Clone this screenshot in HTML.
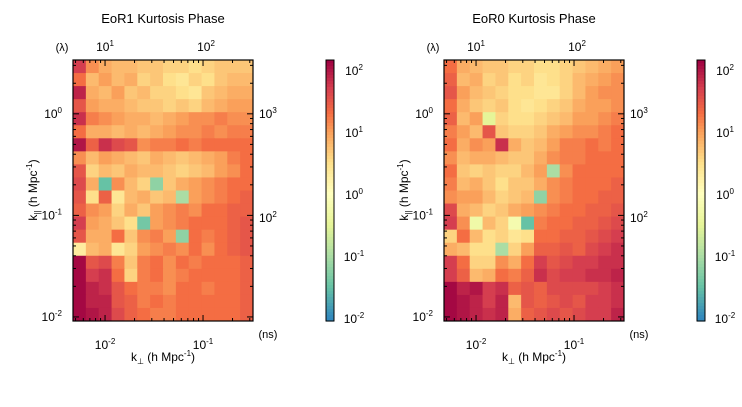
<!DOCTYPE html>
<html><head><meta charset="utf-8"><style>
body{margin:0;background:#fff;}
svg text{font-family:"Liberation Sans",sans-serif;fill:#000;}
</style></head><body>
<svg id="s" width="742" height="402" xmlns="http://www.w3.org/2000/svg"></svg>
<script>
const colEdgesLog=[-2.327,-0.49];
const rowEdgesLog=[-2.04,0.53];
const nCols=14, nRows=20;
const leftValues=[
[1.7,1.1,0.9,0.8,0.8,0.7,0.7,0.6,0.6,0.5,0.6,0.7,0.7,0.7],
[1.3,0.8,1.0,0.8,0.9,0.6,0.7,0.5,0.4,0.6,0.5,0.7,0.8,0.8],
[1.9,0.9,0.8,1.0,0.7,0.8,0.6,0.6,0.5,0.4,0.7,0.8,0.9,0.9],
[1.5,1.0,0.9,0.9,0.8,0.7,0.7,0.6,0.7,0.6,0.8,0.9,1.0,1.0],
[1.8,1.2,1.1,1.0,0.9,0.9,0.8,0.9,1.0,1.1,1.1,1.2,1.1,1.1],
[1.3,0.9,0.9,0.8,0.9,0.8,0.9,1.0,1.1,1.1,1.2,1.1,1.2,1.2],
[2.0,1.4,1.8,1.6,1.5,1.1,1.2,1.2,1.3,1.2,1.3,1.3,1.3,1.3],
[1.1,0.8,1.0,0.9,0.8,0.7,0.9,0.8,0.7,0.8,0.9,1.0,1.2,1.3],
[1.5,0.6,0.8,0.7,0.9,0.8,0.8,0.7,0.6,0.7,0.8,1.0,1.1,1.3],
[1.6,0.9,-1.5,1.1,0.8,0.6,-1.2,0.7,0.9,1.0,1.1,1.2,1.3,1.3],
[1.5,0.5,1.4,0.4,0.8,0.9,0.7,0.8,-1.0,1.0,1.1,1.2,1.3,1.4],
[1.4,1.1,1.0,0.6,0.9,0.7,1.0,1.1,1.2,1.1,1.3,1.3,1.4,1.4],
[1.7,1.0,0.9,0.7,0.5,-1.4,1.0,1.1,1.2,1.3,1.3,1.3,1.4,1.5],
[1.5,0.9,0.9,1.3,0.7,1.1,1.2,1.0,-1.2,1.3,1.2,1.3,1.4,1.5],
[0.3,0.8,0.9,0.4,0.6,1.0,1.1,1.2,1.1,1.3,1.1,1.3,1.4,1.5],
[2.1,1.5,1.6,1.2,0.7,1.2,1.3,1.1,1.3,1.2,1.3,1.3,1.3,1.4],
[2.1,1.7,1.8,1.3,0.6,1.2,1.3,1.1,1.2,1.3,1.3,1.3,1.3,1.4],
[2.1,1.9,1.8,1.5,1.3,1.2,1.2,1.1,1.3,1.3,1.2,1.3,1.3,1.4],
[2.1,1.9,1.9,1.5,1.4,1.2,1.3,1.2,1.3,1.3,1.3,1.3,1.3,1.4],
[2.1,2.0,1.9,1.6,1.4,1.3,1.2,1.2,1.3,1.3,1.3,1.3,1.3,1.4]];
const rightValues=[
[1.3,0.9,0.8,0.7,0.7,0.6,0.6,0.5,0.5,0.6,0.7,0.8,0.9,1.0],
[1.4,0.8,0.9,0.6,0.7,0.5,0.6,0.4,0.5,0.6,0.8,0.9,1.0,1.1],
[1.5,1.0,0.8,0.7,0.6,0.5,0.5,0.4,0.4,0.6,0.8,1.0,1.1,1.1],
[1.3,0.9,0.7,0.6,0.7,0.5,0.4,0.5,0.6,0.7,0.9,1.0,1.0,1.1],
[1.4,0.8,1.0,-0.5,0.6,0.5,0.5,0.6,0.7,0.8,1.0,1.0,1.1,1.2],
[1.2,1.0,0.8,1.5,0.7,0.6,0.6,0.7,0.9,1.0,1.1,1.1,1.2,1.3],
[1.3,0.9,1.1,1.0,1.8,0.9,0.7,0.8,1.0,1.2,1.2,1.3,1.2,1.3],
[1.1,0.8,0.9,0.9,0.8,0.7,0.7,0.9,1.1,1.2,1.2,1.3,1.3,1.3],
[1.3,0.7,0.6,0.7,0.6,0.6,0.8,1.0,-1.0,1.1,1.3,1.3,1.3,1.3],
[1.2,0.8,0.9,0.7,0.5,0.7,0.7,0.9,1.1,1.2,1.3,1.3,1.3,1.4],
[1.1,1.0,1.0,0.8,0.6,0.7,0.8,-1.2,1.1,1.2,1.3,1.3,1.4,1.4],
[1.6,0.9,0.8,0.6,0.7,0.9,1.0,1.1,1.2,1.3,1.3,1.4,1.4,1.5],
[1.7,1.1,-0.3,0.8,0.6,-0.2,-1.5,1.2,1.3,1.3,1.4,1.4,1.5,1.6],
[0.6,1.3,0.8,0.5,0.6,0.4,0.5,1.3,1.3,1.4,1.4,1.5,1.6,1.7],
[0.9,0.8,0.5,0.5,-1.0,0.6,1.0,1.4,1.4,1.5,1.4,1.6,1.7,1.8],
[1.7,1.3,0.6,0.6,1.1,0.9,1.3,1.7,1.5,1.6,1.7,1.7,1.8,1.8],
[1.7,1.4,0.8,0.9,1.3,1.2,1.4,1.8,1.6,1.7,1.7,1.8,1.8,1.9],
[2.1,1.9,2.0,1.7,1.8,1.4,1.5,1.4,1.6,1.6,1.6,1.6,1.7,1.8],
[2.1,2.0,1.9,1.7,1.9,0.8,1.5,1.4,1.5,1.6,1.5,1.7,1.7,1.8],
[2.1,2.0,1.9,1.8,1.9,0.9,1.4,1.5,1.6,1.5,1.6,1.7,1.7,1.9]];
const colorbarTicks=[2,1,0,-1,-2];
const xTicks=[-2,-1];
const yTicks=[0,-1,-2];
const topTicks=["1","2"];
const rightTicks=["3","2"];

const S=document.getElementById('s');
const NS='http://www.w3.org/2000/svg';
function mk(tag,attrs,parent){const e=document.createElementNS(NS,tag);for(const k in attrs)e.setAttribute(k,attrs[k]);(parent||S).appendChild(e);return e;}
const stops=[[-2,[50,136,189]],[-1.5,[102,194,165]],[-1,[171,221,164]],[-0.5,[230,245,152]],[0,[255,255,191]],[0.5,[254,224,139]],[1,[250,160,90]],[1.3,[244,109,67]],[1.7,[213,62,79]],[2.15,[158,1,66]]];
function cmap(v){if(v<=stops[0][0])return 'rgb('+stops[0][1]+')';for(let i=1;i<stops.length;i++){if(v<=stops[i][0]){const a=stops[i-1],b=stops[i],t=(v-a[0])/(b[0]-a[0]);return 'rgb('+a[1].map((c,j)=>Math.round(c+(b[1][j]-c)*t)).join(',')+')';}}return 'rgb('+stops[stops.length-1][1]+')';}
function sup(t,x,y,base,exp,anchor,size){const e=mk('text',{x:x,y:y,'font-size':size||12,'text-anchor':anchor||'middle'},t);e.innerHTML=base+'<tspan dy="-5" font-size="8">'+exp+'</tspan>';return e;}

function panel(off,title,values){
  const g=mk('g',{transform:'translate('+off+',0)'});
  
  
  const X0=73,X1=253,Y0=60,Y1=321;
  const xs=l=>X0+(l-colEdgesLog[0])/(colEdgesLog[1]-colEdgesLog[0])*(X1-X0);
  const ys=l=>Y1-(l-rowEdgesLog[0])/(rowEdgesLog[1]-rowEdgesLog[0])*(Y1-Y0);
  const t=mk('text',{x:163,y:23,'font-size':13,'text-anchor':'middle'},g);t.textContent=title;
  
  const hm=mk('g',{},g);
  const dc=(colEdgesLog[1]-colEdgesLog[0])/nCols, dr=(rowEdgesLog[1]-rowEdgesLog[0])/nRows;
  values.forEach((row,ri)=>{row.forEach((v,ci)=>{
    const l0=colEdgesLog[0]+ci*dc, r0=rowEdgesLog[1]-ri*dr;
    const x=xs(l0), y=ys(r0);
    const c=mk('rect',{x:x,y:y,width:xs(l0+dc)-x+0.5,height:ys(r0-dr)-y+0.5,fill:cmap(v)},hm);
    
    
  });});
  const fr=mk('rect',{x:X0,y:Y0,width:X1-X0,height:Y1-Y0,fill:'none',stroke:'#000','stroke-width':1.2},g);
  
  for(let d=-3;d<=0;d++)for(let m=1;m<10;m++){const l=d+Math.log10(m);if(l<colEdgesLog[0]||l>colEdgesLog[1])continue;const x=xs(l),L=m==1?6:3;mk('line',{x1:x,x2:x,y1:Y1,y2:Y1-L,stroke:'#000'},g);mk('line',{x1:x,x2:x,y1:Y0,y2:Y0+L,stroke:'#000'},g);}
  for(let d=-3;d<=1;d++)for(let m=1;m<10;m++){const l=d+Math.log10(m);if(l<rowEdgesLog[0]||l>rowEdgesLog[1])continue;const y=ys(l),L=m==1?6:3;mk('line',{x1:X0,x2:X0+L,y1:y,y2:y,stroke:'#000'},g);mk('line',{x1:X1,x2:X1-L,y1:y,y2:y,stroke:'#000'},g);}
  xTicks.forEach(v=>{const e=sup(g,xs(v),349,'10',v==-2?'-2':'-1');});
  yTicks.forEach(v=>{const e=sup(g,62,ys(v)+4,'10',String(v),'end');});
  [[105,topTicks[0]],[206,topTicks[1]]].forEach(p=>{const e=sup(g,p[0],51,'10',p[1]);});
  [[114,rightTicks[0]],[218,rightTicks[1]]].forEach(p=>{const e=sup(g,259,p[0]+4,'10',p[1],'start');});
  let e=mk('text',{x:62,y:51,'font-size':11,'text-anchor':'middle'},g);e.textContent='(λ)';
  e=mk('text',{x:268,y:338,'font-size':11,'text-anchor':'middle'},g);e.textContent='(ns)';
  e=mk('text',{x:163,y:361,'font-size':12,'text-anchor':'middle'},g);e.innerHTML='k<tspan dy="3" font-size="8">⊥</tspan><tspan dy="-3"> (h Mpc</tspan><tspan dy="-5" font-size="8">-1</tspan><tspan dy="5">)</tspan>';
  
  e=mk('text',{x:0,y:0,'font-size':12,'text-anchor':'middle',transform:'translate(37,190) rotate(-90)'},g);e.innerHTML='k<tspan dy="3" font-size="8">||</tspan><tspan dy="-3"> (h Mpc</tspan><tspan dy="-5" font-size="8">-1</tspan><tspan dy="5">)</tspan>';
  
  const cb=mk('g',{},g);
  const CX=326,CW=8,top=2.16,bot=-2.05;
  const cy=v=>Y0+(top-v)/(top-bot)*(Y1-Y0);
  for(let i=0;i<87;i++){const v0=top-i*(top-bot)/87;mk('rect',{x:CX,y:cy(v0),width:CW,height:(Y1-Y0)/87+0.6,fill:cmap(v0-(top-bot)/174)},cb);}
  mk('rect',{x:CX,y:Y0,width:CW,height:Y1-Y0,fill:'none',stroke:'#000','stroke-width':1},cb);
  colorbarTicks.forEach(v=>{const t=sup(cb,354,cy(v)+5,'10',String(v),'middle');});
}
panel(0,'EoR1 Kurtosis Phase',leftValues);
panel(371,'EoR0 Kurtosis Phase',rightValues);
</script>
</body></html>
